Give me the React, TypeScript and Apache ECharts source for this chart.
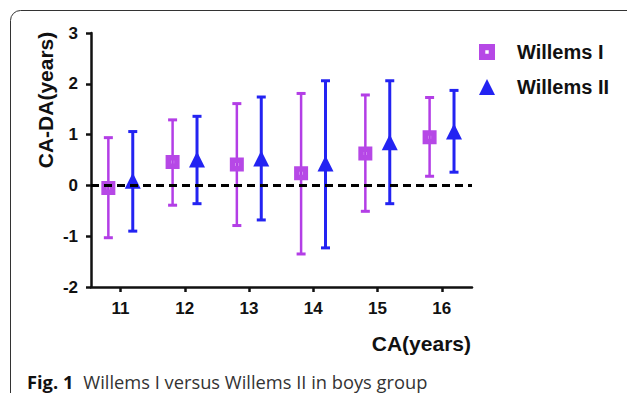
import React, { useEffect, useRef } from "react";
import * as echarts from "echarts";

const categories = [11, 12, 13, 14, 15, 16];
const w1Mean = [-0.05, 0.46, 0.41, 0.24, 0.63, 0.95];
const w1Upper = [0.94, 1.29, 1.61, 1.81, 1.78, 1.73];
const w1Lower = [-1.03, -0.39, -0.79, -1.35, -0.51, 0.18];
const w2Mean = [0.09, 0.51, 0.53, 0.43, 0.85, 1.06];
const w2Upper = [1.06, 1.36, 1.74, 2.06, 2.06, 1.87];
const w2Lower = [-0.9, -0.36, -0.68, -1.23, -0.36, 0.26];
const yTicks = [-2, -1, 0, 1, 2, 3];

const OFFSET = 0.19;
const MAGENTA = "#B33EE6";
const BLUE = "#2323F2";
const SQUARE_HOLE = "path://M0,0H14V14H0Z M5.5,5.5V8.5H8.5V5.5Z";

function errorSeries(name: string, means: number[], lows: number[], highs: number[], dx: number, color: string, width: number) {
  const data = categories.map((c, i) => [c + dx, lows[i], highs[i], means[i]]);
  return {
    type: "custom",
    name: name + " SD",
    data,
    z: 2,
    renderItem: (params: any, api: any) => {
      const x = api.value(0);
      const lo = api.coord([x, api.value(1)]);
      const hi = api.coord([x, api.value(2)]);
      const cap = 4.5;
      const style = { stroke: color, lineWidth: width };
      return {
        type: "group",
        children: [
          { type: "line", shape: { x1: lo[0], y1: lo[1], x2: hi[0], y2: hi[1] }, style },
          { type: "line", shape: { x1: hi[0] - cap, y1: hi[1], x2: hi[0] + cap, y2: hi[1] }, style: { stroke: color, lineWidth: 3 } },
          { type: "line", shape: { x1: lo[0] - cap, y1: lo[1], x2: lo[0] + cap, y2: lo[1] }, style: { stroke: color, lineWidth: 3 } },
        ],
      };
    },
  };
}

export default function App() {
  const ref = useRef<HTMLDivElement>(null);
  useEffect(() => {
    document.body.style.margin = "0";
    const chart = echarts.init(ref.current!, null, { renderer: "svg" });
    const font = "'Liberation Sans', Arial, sans-serif";
    chart.setOption({
      animation: false,
      backgroundColor: "#ffffff",
      grid: { left: 91, right: 155, top: 33, bottom: 106 },
      legend: {
        orient: "vertical",
        left: 474,
        top: 37,
        padding: 5,
        itemWidth: 16,
        itemHeight: 16,
        itemGap: 15,
        data: ["Willems I", "Willems II"],
        textStyle: {
          fontFamily: font,
          fontWeight: "bold",
          fontSize: 20,
          lineHeight: 20,
          color: "#111",
          padding: [0, 0, 0, 17],
        },
      },
      xAxis: {
        type: "value",
        min: 10.54,
        max: 16.47,
        axisLine: { show: true, onZero: false, lineStyle: { color: "#111", width: 2.5 } },
        axisTick: { show: true, length: 5, lineStyle: { color: "#111", width: 2.5 }, customValues: categories },
        axisLabel: {
          customValues: categories,
          margin: 13,
          fontFamily: font,
          fontWeight: "bold",
          fontSize: 17,
          color: "#111",
        },
        splitLine: { show: false },
      },
      yAxis: {
        type: "value",
        min: -2,
        max: 3,
        interval: 1,
        axisLine: { show: true, onZero: false, lineStyle: { color: "#111", width: 2.5 } },
        axisTick: { show: true, length: 5, lineStyle: { color: "#111", width: 2.5 }, customValues: yTicks },
        axisLabel: { customValues: yTicks, margin: 13, fontFamily: font, fontWeight: "bold", fontSize: 17, color: "#111" },
        splitLine: { show: false },
      },
      graphic: [
        {
          type: "rect",
          shape: { x: 10.5, y: 10.5, width: 640, height: 400, r: [10, 0, 0, 0] },
          style: { fill: "none", stroke: "#333", lineWidth: 1 },
          silent: true,
        },
        {
          type: "text",
          x: 45,
          y: 100,
          rotation: Math.PI / 2,
          style: {
            text: "CA-DA(years)",
            fontFamily: font,
            fontWeight: "bold",
            fontSize: 21,
            fill: "#111",
            align: "center",
            verticalAlign: "middle",
          },
        },
        {
          type: "text",
          x: 471,
          y: 343,
          style: {
            text: "CA(years)",
            fontFamily: font,
            fontWeight: "bold",
            fontSize: 21,
            fill: "#111",
            align: "right",
            verticalAlign: "middle",
          },
        },
        {
          type: "text",
          x: 27,
          y: 381,
          style: {
            text: "{b|Fig. 1}   {r|Willems I versus Willems II in boys group}",
            verticalAlign: "middle",
            rich: {
              b: { fontFamily: "'Open Sans', sans-serif", fontWeight: "bold", fontSize: 18.3, fill: "#111" },
              r: { fontFamily: "'Open Sans', sans-serif", fontSize: 18.3, fill: "#333" },
            },
          },
        },
      ],
      series: [
        {
          ...errorSeries("Willems I", w1Mean, w1Lower, w1Upper, -OFFSET, MAGENTA, 2.5),
          markLine: {
            silent: true,
            symbol: ["none", "none"],
            label: { show: false },
            lineStyle: { color: "#000", width: 3, type: [8, 5] },
            data: [{ yAxis: 0 }],
          },
        },
        errorSeries("Willems II", w2Mean, w2Lower, w2Upper, OFFSET, BLUE, 3),
        {
          type: "scatter",
          name: "Willems I",
          symbol: SQUARE_HOLE,
          symbolSize: 14,
          z: 4,
          itemStyle: { color: "#B648E6", opacity: 1 },
          data: categories.map((c, i) => [c - OFFSET, w1Mean[i]]),
        },
        {
          type: "scatter",
          name: "Willems II",
          symbol: "triangle",
          symbolSize: 16,
          z: 4,
          itemStyle: { color: BLUE, opacity: 1 },
          data: categories.map((c, i) => [c + OFFSET, w2Mean[i]]),
        },
      ],
    });
    return () => chart.dispose();
  }, []);
  return <div ref={ref} style={{ position: "absolute", left: 0, top: 0, width: 627, height: 393 }} />;
}
